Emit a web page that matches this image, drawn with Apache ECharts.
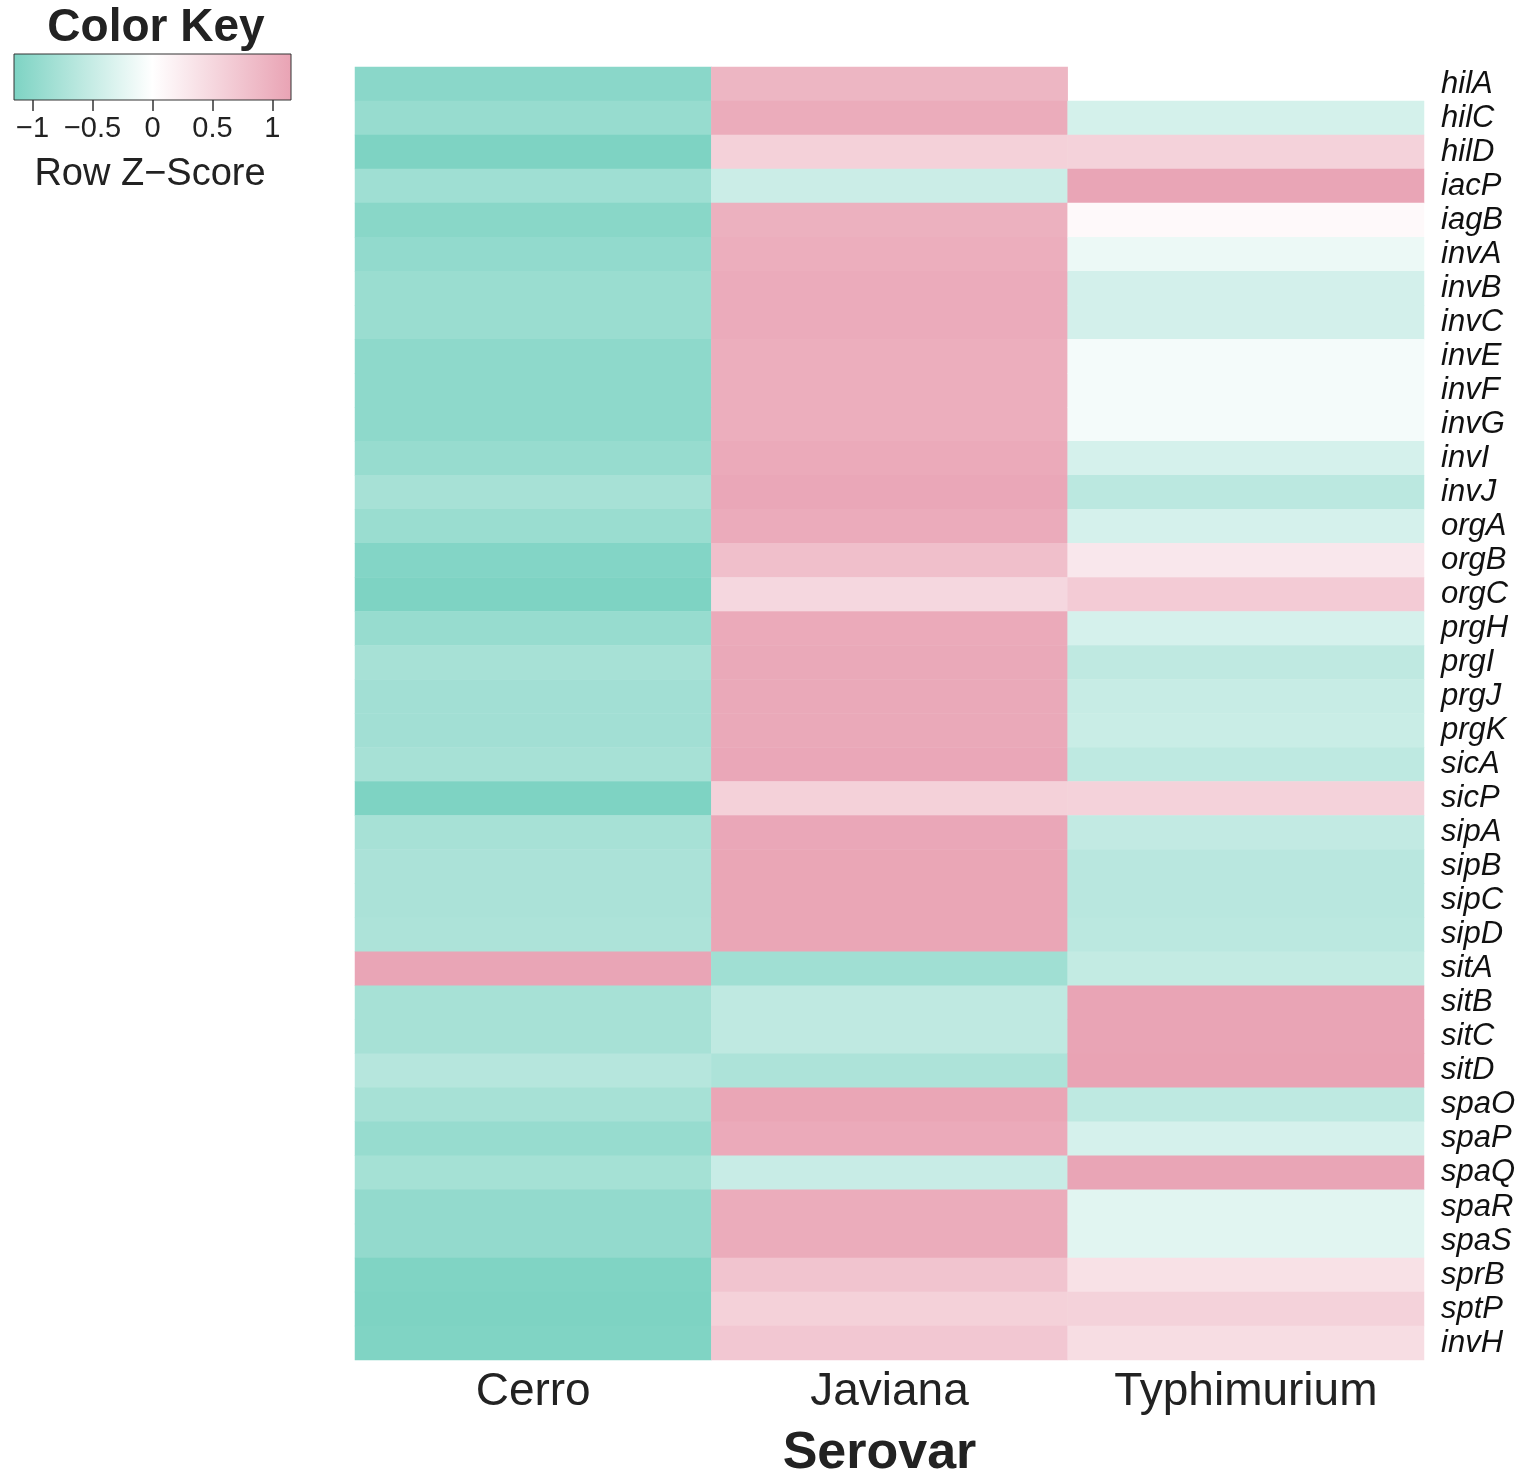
<!DOCTYPE html>
<html>
<head>
<meta charset="utf-8">
<script src="https://cdn.jsdelivr.net/npm/echarts@6/dist/echarts.min.js"></script>
<style>
  html, body { margin: 0; padding: 0; background: #fff; }
  #chart { width: 1524px; height: 1475px; }
</style>
</head>
<body>
<div id="chart"></div>
<script>
var genes = ['hilA','hilC','hilD','iacP','iagB','invA','invB','invC','invE','invF','invG','invI','invJ','orgA','orgB','orgC',
    'prgH','prgI','prgJ','prgK','sicA','sicP','sipA','sipB','sipC','sipD','sitA','sitB','sitC','sitD',
    'spaO','spaP','spaQ','spaR','spaS','sprB','sptP','invH'];
var serovars = ['Cerro', 'Javiana', 'Typhimurium'];

// row z-scores (hilA has no Typhimurium value)
var cerro = [-1.04,-0.92,-1.15,-0.85,-1.05,-0.97,-0.90,-0.90,-1.00,-1.00,-1.00,-0.92,-0.78,-0.90,-1.10,-1.15,
    -0.92,-0.78,-0.83,-0.83,-0.78,-1.15,-0.78,-0.75,-0.75,-0.73,1.13,-0.78,-0.78,-0.65,
    -0.78,-0.92,-0.80,-0.96,-0.96,-1.13,-1.15,-1.13];
var javiana = [0.92,1.04,0.58,-0.46,0.98,1.02,1.05,1.05,1.02,1.02,1.02,1.07,1.10,1.05,0.80,0.50,
    1.07,1.08,1.08,1.08,1.10,0.58,1.10,1.12,1.12,1.12,-0.84,-0.57,-0.57,-0.73,
    1.12,1.07,-0.49,1.04,1.04,0.74,0.58,0.70];
var typhimurium = [null,-0.38,0.57,1.13,0.07,-0.17,-0.39,-0.39,-0.10,-0.10,-0.10,-0.37,-0.60,-0.37,0.30,0.65,
    -0.37,-0.57,-0.50,-0.48,-0.58,0.57,-0.54,-0.62,-0.62,-0.60,-0.53,1.14,1.14,1.15,
    -0.58,-0.37,1.13,-0.27,-0.27,0.38,0.57,0.43];

var keyTicks = [-1, -0.5, 0, 0.5, 1];
var keyMin = -1.155, keyMax = 1.155;
var lowColor = '#7dd3c3', midColor = '#ffffff', highColor = '#e9a3b4';

var cols = [cerro, javiana, typhimurium];
var cells = [];
cols.forEach(function (vals, c) {
    vals.forEach(function (v, r) {
        if (v !== null) cells.push([c, r, v]);
    });
});

function minusFmt(v) {
    return v < 0 ? '\u2212' + Math.abs(v) : String(v);
}

var myChart = echarts.init(document.getElementById('chart'));

var option = {
    backgroundColor: '#fff',
    textStyle: { fontFamily: 'Liberation Sans, Arial, sans-serif' },
    title: [
        {
            text: 'Color Key', left: 151, top: 0, textAlign: 'center',
            textStyle: { fontSize: 46, fontWeight: 'bold', color: '#222', fontFamily: 'Liberation Sans' }
        },
        {
            text: 'Row Z\u2212Score', left: 145, top: 151, textAlign: 'center',
            textStyle: { fontSize: 38, fontWeight: 'normal', color: '#222', fontFamily: 'Liberation Sans' }
        }
    ],
    grid: [
        { left: 355, right: 100, top: 67, bottom: 115, outerBoundsMode: 'none' },
        {
            left: 14, width: 277, top: 54, height: 46, show: true, outerBoundsMode: 'none',
            borderColor: '#333', borderWidth: 1,
            backgroundColor: new echarts.graphic.LinearGradient(0, 0, 1, 0, [
                { offset: 0, color: lowColor },
                { offset: 0.5, color: midColor },
                { offset: 1, color: highColor }
            ])
        }
    ],
    xAxis: [
        {
            type: 'category',
            data: serovars,
            gridIndex: 0,
            axisLine: { show: false },
            axisTick: { show: false },
            axisLabel: { fontSize: 46, color: '#222', margin: 9 },
            name: 'Serovar',
            nameLocation: 'middle',
            nameGap: 68,
            nameTextStyle: { fontSize: 52, fontWeight: 'bold', color: '#222', padding: [0, 20, 0, 0] }
        },
        {
            type: 'value',
            gridIndex: 1,
            min: keyMin,
            max: keyMax,
            splitLine: { show: false },
            axisLine: { show: false },
            axisTick: { show: true, customValues: keyTicks, length: 11, lineStyle: { color: '#333', width: 1.5 } },
            axisLabel: { customValues: keyTicks, fontSize: 29, color: '#222', margin: 14, formatter: minusFmt }
        }
    ],
    yAxis: [
        {
            type: 'category',
            data: genes,
            gridIndex: 0,
            inverse: true,
            position: 'right',
            axisLine: { show: false },
            axisTick: { show: false },
            axisLabel: { interval: 0, fontSize: 31, fontStyle: 'italic', color: '#111', margin: 17, align: 'left' }
        },
        { type: 'value', gridIndex: 1, show: false }
    ],
    visualMap: {
        show: false,
        min: keyMin,
        max: keyMax,
        seriesIndex: 0,
        inRange: { color: [lowColor, midColor, highColor] }
    },
    series: [
        {
            name: 'z-score',
            type: 'heatmap',
            xAxisIndex: 0,
            yAxisIndex: 0,
            data: cells,
            itemStyle: { borderWidth: 0 },
            emphasis: { disabled: true }
        }
    ]
};

myChart.setOption(option);
</script>
</body>
</html>
